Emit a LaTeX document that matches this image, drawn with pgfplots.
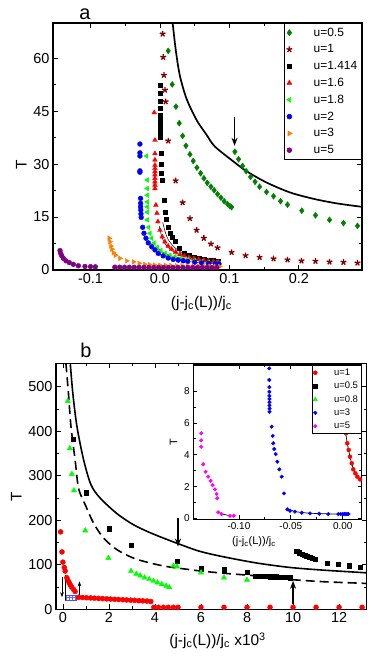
\documentclass[border=0pt]{standalone}
\usepackage{fontspec}
\setmainfont{Liberation Sans}
\usepackage{pgfplots}
\pgfplotsset{compat=1.18}
\usetikzlibrary{arrows.meta,patterns}

\definecolor{oGreen}{RGB}{0,128,0}
\definecolor{oWine}{RGB}{128,0,0}
\definecolor{oRed}{RGB}{255,0,0}
\definecolor{oLime}{RGB}{0,255,0}
\definecolor{oBlue}{RGB}{0,0,255}
\definecolor{oOrange}{RGB}{255,128,0}
\definecolor{oPurple}{RGB}{128,0,128}
\definecolor{oMagenta}{RGB}{255,0,255}

\tikzset{arr/.style={-{Stealth[length=8bp,width=6bp]}, line width=1.3bp}}
\pgfplotsset{
  orig/.style={
    scale only axis,
    axis line style={line width=1.1bp},
    tick style={line width=0.8bp, black},
    major tick length=5bp, minor tick length=3bp,
    tick align=inside,
    minor tick num=1,
    tick label style={font=\fontsize{14.5}{14.5}\selectfont},
    label style={font=\fontsize{15.5}{15.5}\selectfont},
    /pgf/number format/assume math mode=true,
  },
  pts/.style={only marks, mark options={solid, draw=#1, fill=#1}, color=#1},
}

\begin{document}
\begin{tikzpicture}
\path[use as bounding box] (0,0) rectangle (371bp,657bp);

% ---------------- panel a ----------------
\begin{axis}[orig,
  at={(53bp,387bp)}, anchor=south west,
  width=309bp, height=247bp,
  xmin=-0.154, xmax=0.291, ymin=0, ymax=70,
  xtick={-0.1,0,0.1,0.2}, ytick={0,15,30,45,60},
  xticklabel style={/pgf/number format/.cd, fixed, fixed zerofill, precision=1},
  xlabel={(j-j\textsubscript{c}(L))/j\textsubscript{c}},
  ylabel={T},
  x label style={at={(ticklabel cs:0.48)}, anchor=north, yshift=-6bp},
  y label style={at={(ticklabel cs:0.425)}},
  legend style={at={(1,1)}, anchor=north east, font=\fontsize{12}{13}\selectfont,
    draw=black, line width=0.6bp, inner sep=2.5bp, row sep=3bp},
  legend cell align=left,
  legend image code/.code={
    \node[draw=none, fill=none, inner sep=0pt, minimum width=22bp, minimum height=1bp] at (11bp,0bp) {};
    \draw[#1, only marks] plot coordinates {(11bp,0bp)};},
]
  \addplot[pts=oGreen, mark=diamond*, mark size=3bp] coordinates {
    (0.0119,62.1) (0.0177,52.6) (0.023,46.3) (0.0278,41.6) (0.0327,38.0) (0.0374,35.2)
    (0.0432,32.8) (0.0479,30.9) (0.0532,29.0) (0.0586,27.4) (0.0633,26.0) (0.0681,24.7)
    (0.0734,23.6) (0.0781,22.6) (0.083,21.5) (0.0878,20.5) (0.0925,19.5) (0.0974,18.7)
    (0.1007,18.1) (0.1032,17.8)
    (0.1079,33.5) (0.1132,31.4) (0.119,29.5) (0.1242,28.0) (0.1305,26.4) (0.137,25.0)
    (0.1435,23.6) (0.1535,22.1) (0.1636,20.9) (0.1737,19.5) (0.1837,18.5) (0.2043,16.8)
    (0.224,15.5) (0.2442,14.2) (0.2643,13.3) (0.2845,12.5)
  };
  \addlegendentry{u=0.5}
  \addplot[pts=oWine, mark=star, mark size=3bp, mark options={line width=1.3bp}] coordinates {
    (0.0039,66.9) (0.0047,60.3) (0.0058,55.2) (0.0072,51.0) (0.0082,47.7) (0.0119,36.6)
    (0.0226,25.3) (0.0327,19.1) (0.0432,14.6) (0.0528,11.3) (0.0633,9.0) (0.0734,7.4)
    (0.083,6.3) (0.1032,5.0) (0.1233,4.1) (0.1435,3.6) (0.1636,3.2) (0.1837,2.9)
    (0.2039,2.6) (0.224,2.5) (0.2442,2.3) (0.2643,2.2) (0.2845,2.0)
  };
  \addlegendentry{u=1}
  \addplot[pts=black, mark=square*, mark size=2bp] coordinates {
    (0.0005,52.4) (0.0005,50.0) (0.0005,47.7) (0.0005,45.8) (0.0008,43.9) (0.0008,42.5)
    (0.0008,41.1) (0.001,40.1) (0.001,39.2) (0.001,38.2) (0.001,37.6)
    (0.0014,33.2) (0.0024,30.0) (0.0024,27.4) (0.0033,25.5) (0.0068,19.8) (0.0082,16.5)
    (0.0096,14.4) (0.0119,12.1) (0.015,10.5) (0.018,9.2) (0.0216,8.1) (0.0278,6.1)
    (0.035,4.9) (0.0417,4.2) (0.0489,3.7) (0.0561,3.3) (0.0633,3.0) (0.0705,2.8)
    (0.0767,2.7) (0.0839,2.6)
  };
  \addlegendentry{u=1.414}
  \addplot[pts=oRed, mark=triangle*, mark size=2.7bp] coordinates {
    (-0.0082,44.6) (-0.0072,36.8) (-0.0072,33.0) (-0.0072,31.2) (-0.0072,29.7) (-0.0072,28.8)
    (-0.0072,27.9) (-0.0072,27.0) (-0.0072,26.0) (-0.0072,25.0) (-0.0072,24.1) (-0.0072,23.1)
    (-0.0058,18.4) (-0.0043,16.1) (-0.0029,13.7) (0.0,11.3) (0.0033,9.4) (0.0072,8.0)
    (0.0119,6.8) (0.0168,5.9) (0.0226,5.1) (0.0288,4.4) (0.035,4.0) (0.042,3.6)
    (0.049,3.3) (0.056,3.0) (0.063,2.8) (0.07,2.6) (0.077,2.4) (0.084,2.3)
  };
  \addlegendentry{u=1.6}
  \addplot[pts=oLime, mark=triangle*, mark size=2.7bp, mark options={rotate=90}] coordinates {
    (-0.0192,32.3) (-0.0183,25.5) (-0.0183,23.1) (-0.0183,21.2) (-0.0183,19.3) (-0.0183,17.9)
    (-0.0183,16.4) (-0.0183,14.2) (-0.0163,12.1) (-0.0144,10.4) (-0.012,9.0) (-0.0086,7.6)
    (-0.0039,6.4) (0.0014,5.5) (0.0077,4.7) (0.0144,4.2) (0.0216,3.8) (0.03,3.4)
    (0.04,3.0) (0.05,2.7) (0.06,2.4) (0.07,2.2) (0.08,2.0) (0.085,1.9)
  };
  \addlegendentry{u=1.8}
  \addplot[pts=oBlue, mark=*, mark size=2.4bp] coordinates {
    (-0.0288,35.7) (-0.0288,33.2) (-0.0288,32.3) (-0.0288,28.1) (-0.0288,27.7)
    (-0.0278,20.3) (-0.0278,18.9) (-0.0278,17.9) (-0.0275,17.0) (-0.0273,15.9) (-0.027,14.9)
    (-0.0249,12.1) (-0.023,10.4) (-0.0201,9.0) (-0.0168,7.7) (-0.0119,6.6) (-0.0072,5.7)
    (-0.0024,4.7) (0.0047,4.0) (0.0119,3.4) (0.0191,3.0) (0.0263,2.8) (0.0335,2.6)
    (0.04,2.4) (0.05,2.2) (0.06,2.0) (0.07,1.9) (0.08,1.8) (0.085,1.7)
  };
  \addlegendentry{u=2}
  \addplot[pts=oOrange, mark=triangle*, mark size=2.7bp, mark options={rotate=-90}] coordinates {
    (-0.073,9.0) (-0.072,8.0) (-0.0705,6.8) (-0.069,5.9) (-0.067,4.9) (-0.064,4.2)
    (-0.0576,3.3) (-0.048,2.6) (-0.038,2.3) (-0.03,1.9) (-0.022,1.6) (-0.015,1.5)
    (-0.008,1.4) (0.0,1.35) (0.008,1.3) (0.016,1.25) (0.024,1.2) (0.032,1.2) (0.04,1.15)
    (0.048,1.1) (0.056,1.1) (0.064,1.05) (0.072,1.05) (0.08,1.0) (0.086,1.0)
  };
  \addlegendentry{u=3}
  \addplot[pts=oPurple, mark=*, mark size=2.4bp] coordinates {
    (-0.1439,5.5) (-0.1429,4.7) (-0.1414,4.0) (-0.139,3.3) (-0.1353,2.6) (-0.1305,2.1)
    (-0.1247,1.6) (-0.1175,1.2) (-0.108,1.0) (-0.1,0.95) (-0.093,0.9)
    (-0.065,0.8) (-0.058,0.8) (-0.051,0.78) (-0.044,0.77) (-0.037,0.76) (-0.03,0.75)
    (-0.023,0.74) (-0.016,0.73) (-0.009,0.72) (-0.002,0.72) (0.005,0.71) (0.012,0.7)
    (0.019,0.7) (0.026,0.7) (0.033,0.69) (0.04,0.69) (0.047,0.68) (0.054,0.68)
    (0.061,0.68) (0.068,0.67) (0.075,0.67) (0.082,0.67)
  };
  \addlegendentry{u=5}
  % thin fits through the clusters
  \addplot[black, line width=0.5bp, smooth, forget plot] coordinates {
    (0.004,13.5) (0.008,10.5) (0.012,8.6) (0.02,6.6) (0.03,5.1) (0.04,4.3) (0.05,3.7)
    (0.06,3.3) (0.07,3.0) (0.085,2.7)};
  \addplot[black, line width=0.5bp, smooth, forget plot] coordinates {
    (-0.001,12.5) (0.003,9.2) (0.008,7.3) (0.015,5.8) (0.025,4.6) (0.035,3.9) (0.05,3.3)
    (0.07,2.7) (0.085,2.4)};
  \addplot[black, line width=0.5bp, smooth, forget plot] coordinates {
    (-0.004,6.6) (0.001,5.4) (0.01,4.4) (0.02,3.8) (0.04,3.0) (0.06,2.5) (0.085,2.0)};
  \addplot[black, line width=0.5bp, smooth, forget plot] coordinates {
    (-0.012,6.6) (-0.002,4.7) (0.01,3.5) (0.025,2.8) (0.05,2.2) (0.085,1.7)};
  % thick reference curve
  \addplot[black, line width=1.7bp, smooth, forget plot] coordinates {
    (0.0183,70) (0.023,62) (0.0288,55) (0.0384,48.5) (0.0528,42.5) (0.0672,38.3)
    (0.0791,35) (0.1055,30.8) (0.1247,28) (0.1535,24.8) (0.187,22) (0.2206,20.2)
    (0.254,18.9) (0.291,17.9)};
  \draw[arr] (axis cs:0.1075,43.5) -- (axis cs:0.1075,35.2);
\end{axis}
\node[font=\fontsize{20}{20}\selectfont, anchor=center] at (85bp,643bp) {a};

% ---------------- panel b ----------------
\begin{axis}[orig,
  at={(56bp,47.7bp)}, anchor=south west,
  width=310.7bp, height=246bp,
  xmin=-0.3, xmax=13.2, ymin=0, ymax=553,
  xtick={0,2,...,12}, ytick={0,100,...,500},
  xlabel={(j-j\textsubscript{c}(L))/j\textsubscript{c} x10\textsuperscript{3}},
  ylabel={T},
  x label style={at={(ticklabel cs:0.52)}, anchor=north, yshift=-3bp},
  y label style={at={(ticklabel cs:0.458)}},
]
  \addplot[pts=oRed, mark=*, mark size=2.5bp] coordinates {
    (-0.1,174) (-0.04,129) (0.0,106) (0.06,94) (0.1,86) (0.17,71) (0.22,65) (0.27,60)
    (0.32,55) (0.38,50) (0.46,45) (0.53,40)
    (0.68,27) (0.85,26.5) (1.02,26) (1.2,25.5) (1.37,25) (1.55,24.5) (1.72,24) (1.9,23.5)
    (2.07,23) (2.25,22.5) (2.42,22) (2.6,21.5) (2.77,21) (2.95,20.5) (3.12,20) (3.3,19.5)
    (3.47,19) (3.65,18.5) (3.82,17.5)
    (3.95,4.5) (4.15,4.5) (4.37,4.5) (4.58,4.5) (4.8,4.5) (5.0,4.5)
    (6,4.5) (7,4.5) (8,4.5) (9,4.5) (10,4.5) (11,4.5) (12,4.5) (13,4.5)
  };
  \addplot[pts=black, mark=square*, mark size=2.2bp] coordinates {
    (0.46,382) (1.0,262) (2.0,181) (2.97,144) (4.97,108) (6.0,91) (7.0,89) (8.0,83)
    (8.36,75) (8.5,75) (8.62,74.5) (8.75,74) (8.88,74) (9.0,73.5) (9.12,73) (9.25,73)
    (9.38,72.5) (9.5,72) (9.62,71.5) (9.75,71.5) (9.88,71)
    (10.15,130) (10.27,127.5) (10.4,124.5) (10.5,122) (10.6,119.5) (10.72,117) (10.82,115)
    (10.95,113) (11.48,104) (11.96,101) (12.45,98) (12.93,95)
  };
  \addplot[pts=oLime, mark=triangle*, mark size=3bp] coordinates {
    (0.21,468) (0.3,362) (0.39,304) (0.48,267) (0.97,177) (1.98,115) (2.96,86)
    (3.19,79.5) (3.36,75.7) (3.55,71.2) (3.75,67.6) (3.94,63.7) (4.11,60) (4.3,56.3)
    (4.49,52.5) (4.62,49.5) (4.8,98) (4.96,96) (6,82.5) (7,71) (8,66)
  };
  \addplot[black, line width=1.6bp, smooth] coordinates {
    (0.32,553) (0.43,486) (0.61,411) (0.9,336) (1.22,280) (1.62,250) (2.35,215)
    (3.07,190) (3.8,172) (4.52,157) (5.24,143) (5.97,130) (6.98,118) (8.43,104)
    (9.88,94) (11.33,88) (13.2,82)};
  \addplot[black, line width=1.6bp, dash pattern=on 9bp off 5bp, smooth] coordinates {
    (0.13,553) (0.24,486) (0.35,411) (0.53,336) (0.68,272) (0.97,235) (1.33,194)
    (1.77,160) (2.35,134) (3.07,115) (3.8,104) (4.52,96) (5.24,91) (6.0,86) (7.0,81)
    (8.43,75) (9.88,67) (11.33,62) (12.78,59) (13.2,58)};
  \draw[arr] (axis cs:5,205) -- (axis cs:5,141);
  \draw[arr] (axis cs:10,12) -- (axis cs:10,64);
  \draw[blue!70, line width=0.5bp, pattern=grid, pattern color=blue!60] (axis cs:0.1,21) rectangle (axis cs:0.58,32);
  \draw[black, line width=0.6bp] (axis cs:0.1,77) -- (axis cs:0.1,21);
  \draw[-{Stealth[length=5bp,width=3.5bp]}, line width=0.9bp] (axis cs:-0.04,72) -- (axis cs:-0.04,27);
  \draw[-{Stealth[length=5bp,width=3.5bp]}, line width=0.9bp] (axis cs:0.72,25) -- (axis cs:0.72,63);
\end{axis}
\node[font=\fontsize{20}{20}\selectfont, anchor=center] at (86bp,307bp) {b};

% ---------------- inset ----------------
\begin{axis}[orig,
  at={(193.3bp,137.7bp)}, anchor=south west,
  width=168.4bp, height=154.3bp,
  axis background/.style={fill=white},
  xmin=-0.144, xmax=0.0183, ymin=-0.06, ymax=9.64,
  xtick={-0.1,-0.05,0}, ytick={0,2,...,8},
  xticklabel style={/pgf/number format/.cd, fixed, fixed zerofill, precision=2},
  tick label style={font=\fontsize{10}{10}\selectfont},
  label style={font=\fontsize{11}{11}\selectfont},
  major tick length=4bp, minor tick length=2.5bp,
  xlabel={(j-j\textsubscript{c}(L))/j\textsubscript{c}},
  ylabel={T},
  x label style={at={(ticklabel cs:0.36)}, anchor=north},
  y label style={at={(ticklabel cs:0.5)}},
  legend style={at={(1,1)}, anchor=north east, font=\fontsize{9.5}{10}\selectfont,
    draw=black, line width=0.5bp, inner sep=1.5bp, row sep=1.3bp},
  legend cell align=left,
  legend image code/.code={
    \node[draw=none, fill=none, inner sep=0pt, minimum width=17bp, minimum height=1bp] at (8.5bp,0bp) {};
    \draw[#1, only marks] plot coordinates {(9bp,0bp)};},
]
  \addlegendimage{pts=oRed, mark=*, mark size=2bp}
  \addlegendentry{u=1}
  \addlegendimage{pts=black, mark=square*, mark size=1.8bp}
  \addlegendentry{u=0.5}
  \addlegendimage{pts=oLime, mark=triangle*, mark size=2.3bp}
  \addlegendentry{u=0.8}
  \addplot[pts=oBlue, mark=*, mark size=1.8bp] coordinates {
    (-0.0708,9.43) (-0.0708,8.7) (-0.0707,8.25) (-0.0707,7.95) (-0.0707,7.7) (-0.0706,7.5)
    (-0.0706,7.3) (-0.0706,7.1) (-0.0705,6.9) (-0.0705,6.7) (-0.0685,5.76) (-0.0675,5.18)
    (-0.0669,4.72) (-0.066,4.36) (-0.0646,4.04) (-0.063,3.56) (-0.0611,3.08) (-0.0588,2.62)
    (-0.0566,1.57) (-0.0534,0.57) (-0.0508,0.48) (-0.046,0.42) (-0.0395,0.35) (-0.0315,0.31)
    (-0.0226,0.29) (-0.0139,0.27) (-0.0042,0.27) (-0.002,0.27) (0.0,0.27) (0.0015,0.27)
    (0.003,0.27) (0.0042,0.27) (0.0054,0.27)
  };
  \addlegendentry{u=3}
  \addplot[pts=oMagenta, mark=*, mark size=1.8bp] coordinates {
    (-0.1364,5.35) (-0.1364,4.9) (-0.1364,4.5) (-0.1344,3.4) (-0.1321,2.93) (-0.1296,2.62)
    (-0.1273,2.36) (-0.1254,2.09) (-0.1231,1.82) (-0.1215,1.53) (-0.1209,1.26)
    (-0.12,0.38) (-0.1167,0.27) (-0.1087,0.16) (-0.105,0.16)
  };
  \addlegendentry{u=5}
  \addplot[pts=oRed, mark=*, mark size=2bp, forget plot] coordinates {
    (0.0015,5.87) (0.0032,5.35) (0.0044,4.72) (0.0058,4.3) (0.007,3.87) (0.0087,3.46)
    (0.0102,3.08) (0.0122,2.83) (0.0141,2.62) (0.0167,2.45)
  };
  \addplot[black, line width=0.7bp, smooth, forget plot] coordinates {
    (0.0012,6.3) (0.003,5.3) (0.005,4.5) (0.0075,3.75) (0.01,3.15) (0.0125,2.8) (0.0145,2.6) (0.0175,2.42)};
  \addplot[black, line width=0.7bp, smooth, forget plot] coordinates {
    (-0.0534,0.6) (-0.046,0.43) (-0.035,0.34) (-0.02,0.29) (0,0.27) (0.0075,0.27)};
  \addplot[black, line width=0.7bp, smooth, forget plot] coordinates {
    (-0.1205,0.45) (-0.116,0.27) (-0.108,0.17) (-0.104,0.16)};
\end{axis}
\end{tikzpicture}
\end{document}
